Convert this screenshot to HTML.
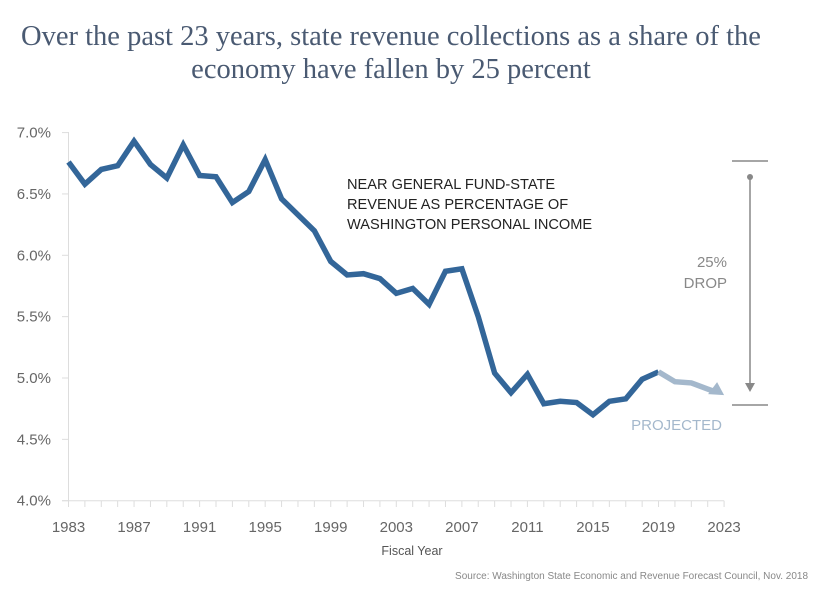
<!DOCTYPE html>
<html><head><meta charset="utf-8"><style>
body{margin:0;background:#fff;width:820px;height:598px;overflow:hidden}
svg{display:block}
</style></head><body>
<svg id="s" width="820" height="598" xmlns="http://www.w3.org/2000/svg" font-family="Liberation Sans, sans-serif">
<text x="391" y="45" text-anchor="middle" font-family="Liberation Serif, serif" font-size="28.5" fill="#4a5a72">Over the past 23 years, state revenue collections as a share of the</text>
<text x="391" y="78" text-anchor="middle" font-family="Liberation Serif, serif" font-size="28.5" fill="#4a5a72">economy have fallen by 25 percent</text>
<g id="g"></g>
<text x="347" y="189" font-size="14.6" fill="#222">NEAR GENERAL FUND-STATE</text>
<text x="347" y="209" font-size="14.6" fill="#222">REVENUE AS PERCENTAGE OF</text>
<text x="347" y="229" font-size="14.6" fill="#222">WASHINGTON PERSONAL INCOME</text>
<text x="727" y="267" text-anchor="end" font-size="15" fill="#888">25%</text>
<text x="727" y="288" text-anchor="end" font-size="15" fill="#888">DROP</text>
<text x="722" y="430" text-anchor="end" font-size="15" fill="#a4b8cc">PROJECTED</text>
<line x1="732" y1="161" x2="768" y2="161" stroke="#888" stroke-width="1.5"/>
<line x1="732" y1="405" x2="768" y2="405" stroke="#888" stroke-width="1.5"/>
<line x1="750" y1="177" x2="750" y2="385" stroke="#888" stroke-width="1.5"/>
<circle cx="750" cy="177" r="3" fill="#888"/>
<polygon points="745,383 755,383 750,392" fill="#888"/>
<text x="412" y="555" text-anchor="middle" font-size="12.5" fill="#555">Fiscal Year</text>
<text x="808" y="579" text-anchor="end" font-size="10" fill="#888">Source: Washington State Economic and Revenue Forecast Council, Nov. 2018</text>
</svg>
<script>
var X=function(y){return 68.5+(y-1983)*16.39},Y=function(v){return 500.7-(v-4)*122.7};
var h='';
h+='<line x1="68.5" y1="132" x2="68.5" y2="501" stroke="#ddd"/>';
h+='<line x1="62" y1="500.7" x2="724" y2="500.7" stroke="#ddd"/>';
for(var i=0;i<=6;i++){var v=4+i*0.5,y=Y(v);h+='<line x1="62" x2="68.5" y1="'+y+'" y2="'+y+'" stroke="#ddd"/><text x="51" y="'+(y+5)+'" text-anchor="end" font-size="15" fill="#666">'+v.toFixed(1)+'%</text>';}
for(var yr=1983;yr<=2023;yr++){var x=X(yr);h+='<line x1="'+x+'" x2="'+x+'" y1="500.7" y2="507" stroke="#ddd"/>';if((yr-1983)%4==0)h+='<text x="'+x+'" y="532" text-anchor="middle" font-size="15" fill="#666">'+yr+'</text>';}
var d=[6.76,6.58,6.70,6.73,6.93,6.74,6.63,6.90,6.65,6.64,6.43,6.52,6.78,6.46,6.33,6.20,5.95,5.84,5.85,5.81,5.69,5.73,5.60,5.87,5.89,5.50,5.04,4.88,5.03,4.79,4.81,4.80,4.70,4.81,4.83,4.99,5.05];
var p=d.map(function(v,i){return X(1983+i)+','+Y(v)}).join(' ');
h+='<polyline points="'+p+'" fill="none" stroke="#336699" stroke-width="5.5" stroke-linejoin="miter"/>';
var pr=[[2019,5.05],[2020,4.97],[2021,4.96],[2022,4.91],[2022.3,4.895]];
h+='<polyline points="'+pr.map(function(a){return X(a[0])+','+Y(a[1])}).join(' ')+'" fill="none" stroke="#a4b8cc" stroke-width="5.5"/>';
var tx=X(2023),ty=Y(4.86);
h+='<polygon points="'+tx+','+ty+' '+(tx-16)+','+(ty-1)+' '+(tx-7)+','+(ty-13)+'" fill="#a4b8cc"/>';
document.getElementById('g').innerHTML=h;
</script>
</body></html>
